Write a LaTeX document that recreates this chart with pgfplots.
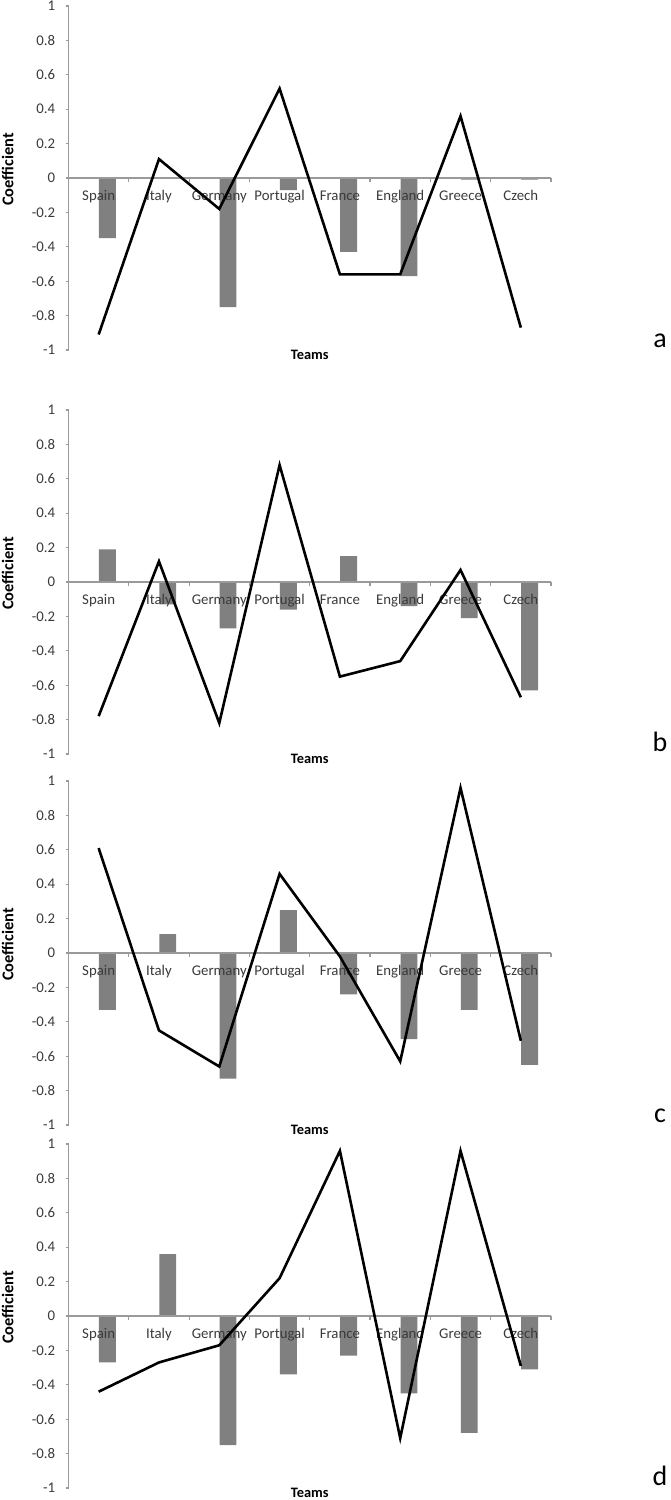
\documentclass[border=0pt]{standalone}
\usepackage{fontspec}
\setmainfont{Carlito}
\usepackage{pgfplots}
\usepackage{pgfplotstable}
\pgfplotsset{compat=1.18}
\definecolor{barcol}{HTML}{808080}
\definecolor{axisgray}{HTML}{9A9A9A}
\definecolor{txt}{HTML}{3A3A3A}

\pgfplotsset{
  layers/mylayers/.define layer set={
    axis background,axis grid,axis ticks,axis lines,pre main,axis tick labels,main,axis descriptions,axis foreground
  }{},
}

\pgfplotstableread{
x bar line
0 -0.35 -0.91
1  0.00  0.11
2 -0.75 -0.18
3 -0.07  0.52
4 -0.43 -0.56
5 -0.57 -0.56
6 -0.01  0.36
7 -0.01 -0.87
}\dataA
\pgfplotstableread{
x bar line
0  0.19 -0.78
1 -0.13  0.12
2 -0.27 -0.82
3 -0.16  0.68
4  0.15 -0.55
5 -0.14 -0.46
6 -0.21  0.07
7 -0.63 -0.67
}\dataB
\pgfplotstableread{
x bar line
0 -0.33  0.61
1  0.11 -0.45
2 -0.73 -0.66
3  0.25  0.46
4 -0.24 -0.02
5 -0.50 -0.63
6 -0.33  0.96
7 -0.65 -0.51
}\dataC
\pgfplotstableread{
x bar line
0 -0.27 -0.44
1  0.36 -0.27
2 -0.75 -0.17
3 -0.34  0.22
4 -0.23  0.96
5 -0.45 -0.71
6 -0.68  0.96
7 -0.31 -0.29
}\dataD

\pgfplotsset{
  panel/.style={
    set layers=mylayers,
    scale only axis,
    width=241.25pt, height=172pt,
    anchor=north west,
    xmin=-0.5, xmax=7.5, ymin=-1, ymax=1,
    axis x line=middle, axis y line=left,
    axis line style={color=axisgray, line width=0.6pt, -},
    hide obscured x ticks=false, hide obscured y ticks=false,
    clip=false,
    xtick={0,1,2,3,4,5,6,7},
    xticklabels={Spain,Italy,Germany,Portugal,France,England,Greece,Czech},
    major x tick style={draw=none},
    minor xtick={-0.5,0.5,1.5,2.5,3.5,4.5,5.5,6.5,7.5},
    minor x tick style={color=axisgray, line width=0.6pt},
    minor tick length=1.75pt,
    major tick length=1.5pt,
    xtick align=outside,
    ytick align=outside,
    ytick={-1,-0.8,-0.6,-0.4,-0.2,0,0.2,0.4,0.6,0.8,1},
    yticklabels={-1,-0.8,-0.6,-0.4,-0.2,0,0.2,0.4,0.6,0.8,1},
    y tick style={color=axisgray, line width=0.6pt},
    tick label style={font=\fontsize{7.4}{8.5}\selectfont, text=txt},
    xticklabel style={anchor=base, yshift=-9.8pt},
    yticklabel style={anchor=east, inner sep=0pt, xshift=-5pt},
    every axis x label/.style={at={(axis description cs:0.5,0)}, anchor=base, yshift=-4.6pt, font=\fontsize{7.2}{8.5}\selectfont\bfseries},
    every axis y label/.style={at={(axis description cs:-0.126,0.525)}, anchor=center, rotate=90, font=\fontsize{8.2}{9.5}\selectfont\bfseries},
    xlabel={Teams}, ylabel={Coefficient},
  },
  barstyle/.style={ybar, bar width=0.28, bar shift=0.145, fill=barcol, draw=none},
  linestyle/.style={black, line width=1.3pt, mark=none},
}

\newcommand{\panel}[3]{%
\begin{axis}[panel, at={(34.25pt,#1)}]
  \addplot[barstyle, on layer=pre main] table[x=x,y=bar] {#2};
  \addplot[linestyle] table[x=x,y=line] {#2};
  \node[font=\fontsize{14}{16}\selectfont, anchor=base] at (axis description cs:1.226,0.008) {#3};
\end{axis}}

\begin{document}
\begin{tikzpicture}
\panel{-3pt}{\dataA}{a}
\panel{-205pt}{\dataB}{b}
\panel{-390.5pt}{\dataC}{c}
\panel{-572pt}{\dataD}{d}
\pgfresetboundingbox
\path (0,0) rectangle (335pt,-750pt);
\end{tikzpicture}
\end{document}
